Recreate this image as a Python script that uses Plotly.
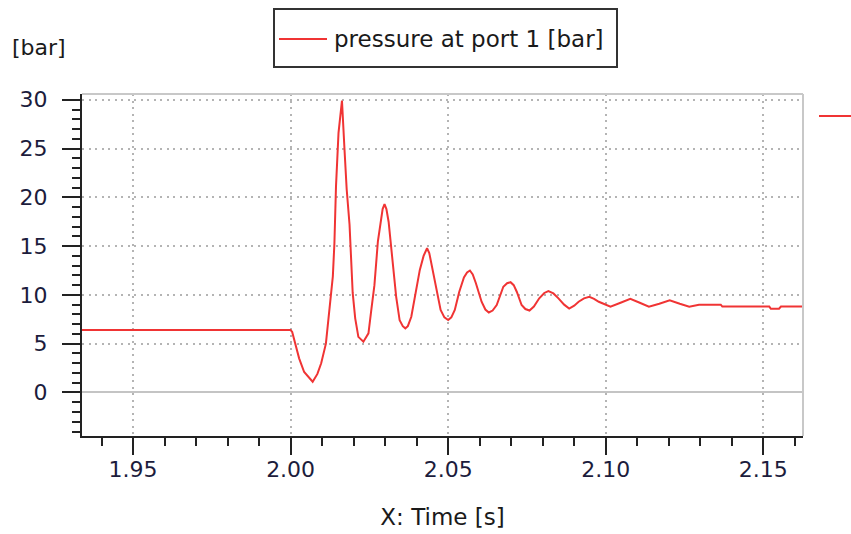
import plotly.graph_objects as go

# ---- data ----
time_s = [1.930, 2.0000, 2.0005, 2.0017, 2.0027, 2.0043, 2.0070, 2.0085, 2.0097, 2.0112, 2.0123,
          2.0134, 2.0139, 2.0144, 2.0152, 2.0158, 2.0163, 2.0171, 2.0178, 2.0187, 2.0192,
          2.0197, 2.0205, 2.0215, 2.0231, 2.0247, 2.0256, 2.0266, 2.0277, 2.0285, 2.0292, 2.0298,
          2.0304, 2.0311, 2.0319, 2.0325, 2.0335, 2.0346, 2.0356, 2.0364, 2.0372, 2.0383, 2.0399,
          2.0410, 2.0422, 2.0433, 2.0440, 2.0447, 2.0463, 2.0476, 2.0488, 2.0500, 2.0510, 2.0521,
          2.0535, 2.0550, 2.0560, 2.0569, 2.0578, 2.0588, 2.0606, 2.0618, 2.0629, 2.0641, 2.0654,
          2.0675, 2.0687, 2.0698, 2.0708, 2.0718, 2.0733, 2.0745, 2.0758, 2.0772, 2.0789, 2.0805,
          2.0818, 2.0834, 2.0850, 2.0868, 2.0884, 2.0900, 2.0914, 2.0931, 2.0948, 2.0963, 2.0978,
          2.1015, 2.1047, 2.1078, 2.1108, 2.1137, 2.1170, 2.1203, 2.1235, 2.1265, 2.1296,
          2.1365, 2.1370, 2.1519, 2.1524, 2.1550, 2.1556, 2.1660]
pressure_bar = [6.4, 6.4, 6.2, 4.7, 3.5, 2.1, 1.1, 1.9, 3.0, 5.0, 8.8,
                11.9, 15.3, 21.1, 26.6, 28.6, 29.9, 24.9, 20.8, 17.2, 13.6,
                10.2, 7.6, 5.7, 5.2, 6.06, 8.45, 11.0, 15.5, 17.5, 18.8, 19.3,
                18.8, 17.5, 14.95, 12.56, 9.8, 7.4, 6.8, 6.57, 6.8, 7.76, 10.5,
                12.56, 14.0, 14.78, 14.3, 13.2, 10.8, 8.45, 7.7, 7.42, 7.7, 8.45,
                10.3, 11.8, 12.3, 12.5, 12.1, 11.2, 9.3, 8.5, 8.2, 8.4, 8.96,
                10.84, 11.2, 11.3, 11.0, 10.3, 8.96, 8.55, 8.4, 8.8, 9.65, 10.2,
                10.4, 10.15, 9.65, 9.0, 8.6, 8.9, 9.3, 9.65, 9.8, 9.6, 9.3,
                8.8, 9.2, 9.6, 9.2, 8.8, 9.1, 9.45, 9.1, 8.8, 9.0,
                9.0, 8.8, 8.8, 8.58, 8.58, 8.8, 8.8]

x_tickvals = [1.95, 2.00, 2.05, 2.10, 2.15]
x_ticktext = ["1.95", "2.00", "2.05", "2.10", "2.15"]
y_tickvals = [0, 5, 10, 15, 20, 25, 30]
y_ticktext = ["0", "5", "10", "15", "20", "25", "30"]

series_name = "pressure at port 1 [bar]"
x_title = "X: Time [s]"
y_unit = "[bar]"

RED = "#f03434"
AXIS = "#222222"
GRID = "#b4b4b4"
TICKFONT = dict(family="DejaVu Sans", size=22, color="#1c1c3c")
LEGFONT = dict(family="DejaVu Sans", size=23, color="#1a1a1a")
UNITFONT = dict(family="DejaVu Sans", size=22, color="#1a1a1a")
TITLEFONT = dict(family="DejaVu Sans", size=23, color="#1a1a1a")

fig = go.Figure()
fig.add_trace(go.Scatter(x=time_s, y=pressure_bar, mode="lines", name=series_name,
                         line=dict(color=RED, width=2), showlegend=False))

W, H = 851, 534
L, R, T, B = 82, 48, 94, 98
pw, ph = W - L - R, H - T - B


def px(xp):
    return (xp - L) / pw


def py(yp):
    return (H - B - yp) / ph


fig.update_layout(
    width=W, height=H,
    margin=dict(l=L, r=R, t=T, b=B, autoexpand=False),
    paper_bgcolor="white", plot_bgcolor="white",
    xaxis=dict(range=[1.9338, 2.1626], tickmode="array", tickvals=x_tickvals, ticktext=x_ticktext,
               ticks="outside", ticklen=17, tickwidth=2, tickcolor=AXIS,
               showline=True, linecolor=AXIS, linewidth=2, automargin=False,
               showgrid=True, gridcolor=GRID, gridwidth=1.5, griddash="2px,4.5px",
               zeroline=False, tickfont=TICKFONT, ticklabelstandoff=-4,
               minor=dict(dtick=0.01, tick0=1.95, ticks="outside", ticklen=8, tickwidth=2,
                          tickcolor=AXIS, showgrid=False),
               title=dict(text=x_title, font=TITLEFONT, standoff=27)),
    yaxis=dict(range=[-4.46, 30.59], tickmode="array", tickvals=y_tickvals, ticktext=y_ticktext,
               ticks="outside", ticklen=18, tickwidth=2, tickcolor=AXIS,
               showline=True, linecolor=AXIS, linewidth=2, automargin=False,
               showgrid=True, gridcolor=GRID, gridwidth=1.5, griddash="2px,4.5px",
               zeroline=True, zerolinecolor="#c4c4c4", zerolinewidth=2,
               tickfont=TICKFONT, ticklabelstandoff=10,
               minor=dict(dtick=1, tick0=0, ticks="outside", ticklen=8, tickwidth=2,
                          tickcolor=AXIS, showgrid=False)),
    showlegend=False,
)

shapes = [
    # top and right frame (light gray)
    dict(type="line", xref="paper", yref="paper", x0=0, x1=1, y0=1, y1=1,
         line=dict(color="#c8c8c8", width=2)),
    dict(type="line", xref="paper", yref="paper", x0=1, x1=1, y0=0, y1=1,
         line=dict(color="#c8c8c8", width=2)),
    # legend box
    dict(type="rect", xref="paper", yref="paper", x0=px(274), x1=px(617), y0=py(67), y1=py(9),
         line=dict(color="#333333", width=2), fillcolor="white"),
    dict(type="line", xref="paper", yref="paper", x0=px(279), x1=px(327), y0=py(39), y1=py(39),
         line=dict(color=RED, width=2)),
    # cut-off marker on the right
    dict(type="line", xref="paper", yref="paper", x0=px(819), x1=px(853), y0=py(116), y1=py(116),
         line=dict(color=RED, width=2)),
]
fig.update_layout(shapes=shapes)

fig.add_annotation(xref="paper", yref="paper", x=px(332), y=py(39), xanchor="left", yanchor="middle",
                   text=series_name, showarrow=False, font=LEGFONT)
fig.add_annotation(xref="paper", yref="paper", x=px(10), y=py(47), xanchor="left", yanchor="middle",
                   text=y_unit, showarrow=False, font=UNITFONT)

fig.write_html("out.html")
